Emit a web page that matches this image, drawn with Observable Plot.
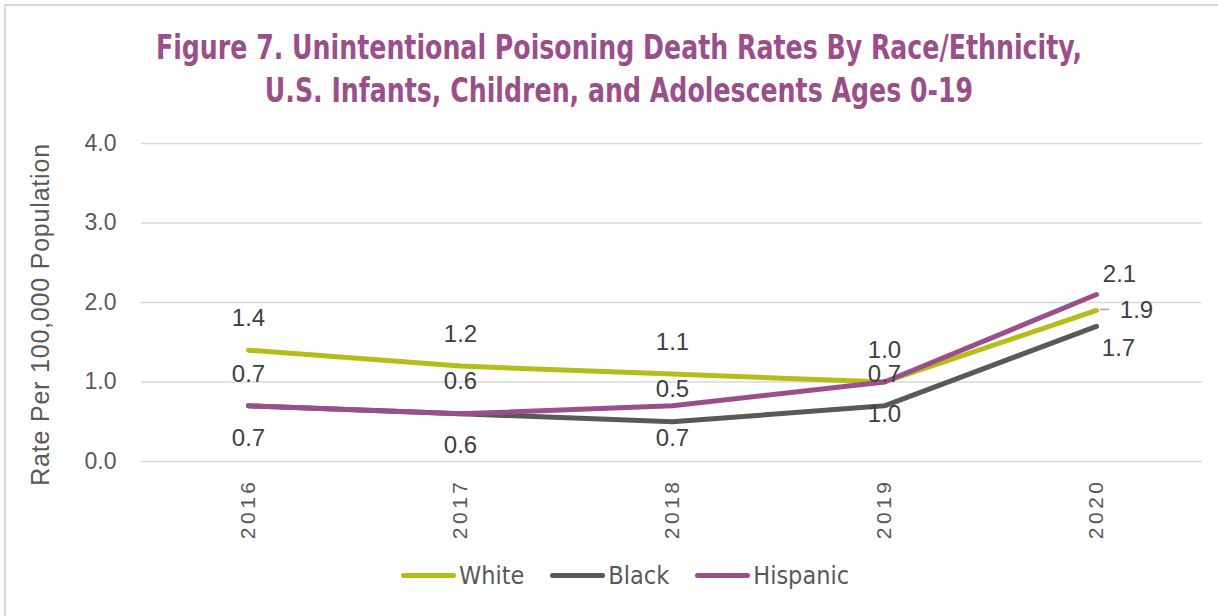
<!DOCTYPE html>
<html>
<head>
<meta charset="utf-8">
<script src="https://cdn.jsdelivr.net/npm/d3@7"></script>
<script src="https://cdn.jsdelivr.net/npm/@observablehq/plot@0.6"></script>
<style>
  html, body { margin: 0; padding: 0; background: #fff; }
  #page { position: relative; width: 1218px; height: 616px; overflow: hidden; }
  #border { position: absolute; left: 4px; top: 4px; width: 1300px; height: 700px;
            border-left: 2px solid #d9d9d9; border-top: 2px solid #d9d9d9; }
  #title { position: absolute; left: 10px; top: 26px; width: 1218px; text-align: center;
           font-family: "Liberation Sans Narrow", "DejaVu Sans Condensed", sans-serif; font-weight: bold;
           font-size: 33px; line-height: 43px; color: #9b4f8a; transform: scaleX(0.85); transform-origin: 609px 0; }
  #chart { position: absolute; left: 0; top: 120px; }
  #legend { position: absolute; left: 16px; top: 561px; width: 1218px; display: flex; justify-content: center;
            font-family: "Liberation Sans Narrow", "DejaVu Sans Condensed", sans-serif; font-size: 25px; color: #595959; }
  .item { display: flex; align-items: center; margin: 0 13px; }
  .sw { width: 55px; height: 5px; border-radius: 3px; margin-right: 3px; }
  [aria-label="x-axis tick label"] text { letter-spacing: 3.5px; }
  .ylab text { letter-spacing: 0.8px; }
</style>
</head>
<body>
<div id="page">
  <div id="border"></div>
  <div id="title">Figure 7. Unintentional Poisoning Death Rates By Race/Ethnicity,<br>U.S. Infants, Children, and Adolescents Ages 0-19</div>
  <div id="chart"></div>
  <div id="legend"></div>
</div>
<script>
const years = ["2016", "2017", "2018", "2019", "2020"];
const seriesNames = ["White", "Black", "Hispanic"];
const white = [1.4, 1.2, 1.1, 1.0, 1.9];
const black = [0.7, 0.6, 0.5, 0.7, 1.7];
const hispanic = [0.7, 0.6, 0.7, 1.0, 2.1];
const yTicks = [0, 1, 2, 3, 4];
const yLabel = "Rate Per 100,000 Population";
const colors = ["#b5bd19", "#595959", "#9b4f8a"];

const values = [white, black, hispanic];
const data = [];
seriesNames.forEach((s, i) => years.forEach((y, j) => data.push({series: s, year: y, value: values[i][j], idx: j})));
const last = years.length - 1;
const pick = (s, f) => data.filter(d => d.series === s && f(d));
const labelStyle = {x: "year", y: "value", text: d => d.value.toFixed(1), fill: "#404040", fontSize: 24,
                    fontFamily: "Liberation Sans, Arial, sans-serif"};

const chart = Plot.plot({
  width: 1218,
  height: 440,
  marginLeft: 141,
  marginRight: 16,
  marginTop: 23,
  marginBottom: 99,
  style: {fontFamily: "Liberation Sans, Arial, sans-serif", color: "#595959", background: "transparent", overflow: "visible"},
  x: {type: "point", domain: years, padding: 0.5},
  y: {domain: [0, 4]},
  color: {domain: seriesNames, range: colors},
  marks: [
    Plot.ruleY(yTicks, {stroke: "#d9d9d9", strokeWidth: 1.5}),
    Plot.axisY({ticks: yTicks, tickFormat: d => d.toFixed(1), tickSize: 0, tickPadding: 25, fontSize: 23, label: null}),
    Plot.text([yLabel], {text: d => d, frameAnchor: "left", textAnchor: "middle", lineAnchor: "middle", rotate: -90,
                         dx: -101, dy: 12, fontSize: 25, fill: "#595959", className: "ylab"}),
    Plot.axisX({tickRotate: -90, tickSize: 0, tickPadding: 17, fontSize: 21, label: null}),
    Plot.lineY(data, {x: "year", y: "value", z: "series", stroke: "series", strokeWidth: 5, strokeLinecap: "round", strokeLinejoin: "round"}),
    Plot.text(pick("White", d => d.idx < last), {...labelStyle, dy: -32}),
    Plot.text(pick("Black", d => d.idx < last), {...labelStyle, dy: -32}),
    Plot.text(pick("Hispanic", d => d.idx < last), {...labelStyle, dy: 32}),
    Plot.text(pick("White", d => d.idx === last), {...labelStyle, dx: 40, dy: 0}),
    Plot.text(pick("Black", d => d.idx === last), {...labelStyle, dx: 22, dy: 22}),
    Plot.text(pick("Hispanic", d => d.idx === last), {...labelStyle, dx: 23, dy: -20}),
    Plot.ruleY(pick("White", d => d.idx === last), {x1: "year", x2: "year", y: "value", insetLeft: 4, insetRight: -13, dy: -1, stroke: "#a6a6a6", strokeWidth: 1.5})
  ]
});
document.getElementById("chart").appendChild(chart);

const legend = document.getElementById("legend");
seriesNames.forEach((s, i) => {
  const it = document.createElement("div");
  it.className = "item";
  it.innerHTML = `<div class="sw" style="background:${colors[i]}"></div><span>${s}</span>`;
  legend.appendChild(it);
});
</script>
</body>
</html>
